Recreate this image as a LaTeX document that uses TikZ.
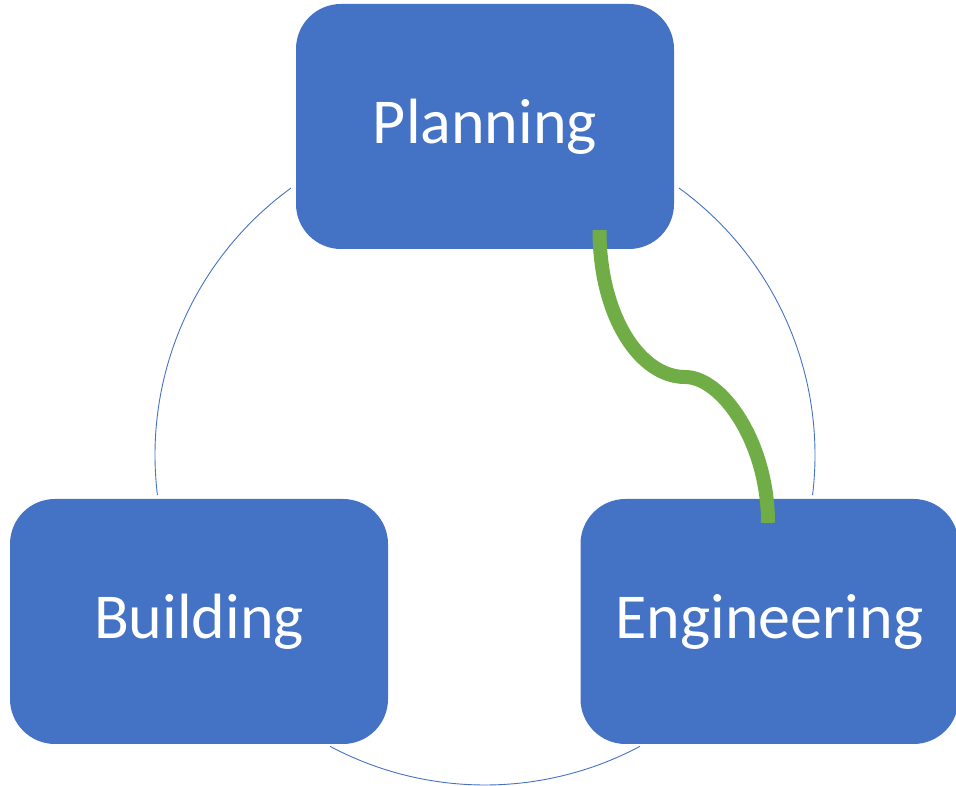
\documentclass[tikz,border=0pt]{standalone}
\usepackage{fontspec}
\setmainfont{Carlito}
\usetikzlibrary{calc}
\definecolor{boxblue}{HTML}{4472C4}
\definecolor{linkgreen}{HTML}{70AD47}
\tikzset{
	stage/.style={rectangle,rounded corners=45pt,fill=boxblue,text=white,minimum width=378pt,minimum height=245pt,inner sep=0pt,font=\fontsize{64}{76}\selectfont},
	ring/.style={draw=boxblue,line width=0.9pt},
	link/.style={draw=linkgreen,line width=14pt,line cap=butt}
}
\begin{document}
\begin{tikzpicture}[x=1pt,y=1pt]
		\useasboundingbox (0,0) rectangle (956,786);
		\coordinate (O) at (485,331);
		\draw[ring] (O) ++(126:330) arc (126:187:330);
		\draw[ring] (O) ++(242:330) arc (242:298:330);
		\draw[ring] (O) ++(-7:330) arc (-7:54:330);
		\node[stage] (planning) at (485,659.5) {Planning};
		\node[stage] (building) at (199,164.5) {Building};
		\node[stage] (engineering) at (769.5,164.5) {Engineering};
		\coordinate (L1) at ([xshift=114.5pt,yshift=19pt]planning.south);
		\coordinate (L2) at ([xshift=-1.5pt,yshift=-24pt]engineering.north);
		\draw[link] (L1) .. controls ($(L1)+(0,-86)$) and (640,409) .. (685,409) coordinate (M) .. controls (722,409) and ($(L2)+(0,80)$) .. (L2);
	\end{tikzpicture}
\end{document}
